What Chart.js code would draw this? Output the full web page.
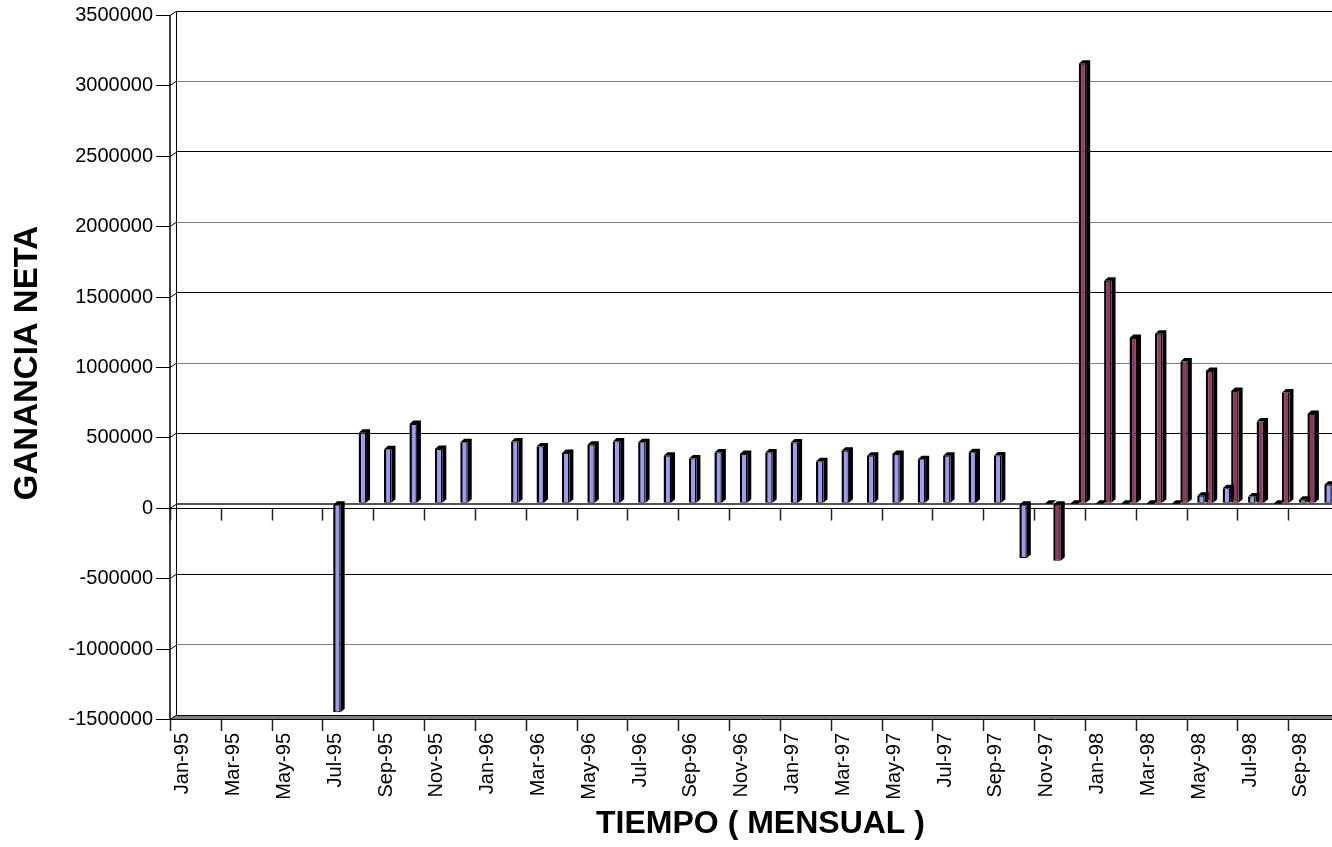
<!DOCTYPE html>
<html>
<head>
<meta charset="utf-8">
<script src="https://cdn.jsdelivr.net/npm/chart.js@4.4.1/dist/chart.umd.min.js"></script>
<style>
  html, body { margin: 0; padding: 0; background: #fff; overflow: hidden; }
  #wrap { width: 1350px; height: 847px; }
</style>
</head>
<body>
<div id="wrap"><canvas id="gananciaChart"></canvas></div>
<script>
const months = [
    'Jan-95', 'Feb-95', 'Mar-95', 'Apr-95', 'May-95', 'Jun-95', 'Jul-95', 'Aug-95', 'Sep-95', 'Oct-95', 'Nov-95', 'Dec-95',
    'Jan-96', 'Feb-96', 'Mar-96', 'Apr-96', 'May-96', 'Jun-96', 'Jul-96', 'Aug-96', 'Sep-96', 'Oct-96', 'Nov-96', 'Dec-96',
    'Jan-97', 'Feb-97', 'Mar-97', 'Apr-97', 'May-97', 'Jun-97', 'Jul-97', 'Aug-97', 'Sep-97', 'Oct-97', 'Nov-97', 'Dec-97',
    'Jan-98', 'Feb-98', 'Mar-98', 'Apr-98', 'May-98', 'Jun-98', 'Jul-98', 'Aug-98', 'Sep-98', 'Oct-98'
];

// blue series
const serie1 = [
    null, null, null, null, null, null, -1480000, 505000, 388000, 566000, 390000, 437000,
    null, 442000, 407000, 360000, 419000, 442000, 438000, 341000, 322000, 364000, 353000, 364000,
    435000, 303000, 376000, 341000, 353000, 317000, 341000, 366000, 343000, -385000, 0, 0,
    0, 0, 0, 0, 57000, 111000, 52000, 0, 28000, 135000
];

// maroon series
const serie2 = [
    null, null, null, null, null, null, null, null, null, null, null, null,
    null, null, null, null, null, null, null, null, null, null, null, null,
    null, null, null, null, null, null, null, null, null, null, -405000, 3125000,
    1584000, 1177000, 1207000, 1011000, 944000, 802000, 585000, 791000, 637000, null
];

const yTicks = { min: -1500000, max: 3500000, step: 500000 };

Chart.defaults.font.family = "'Liberation Sans', Arial, sans-serif";
Chart.defaults.color = '#000';

// walls, floor, zero plane and tick marks of the 3D look
const frame3d = {
    id: 'frame3d',
    beforeDatasetsDraw(chart) {
        const { ctx, chartArea: a, scales: { x, y } } = chart;
        const dx = 6, dy = 4;
        const fl = a.left - dx;
        const far = a.right + 40;
        const cat = x.getPixelForValue(1) - x.getPixelForValue(0);
        ctx.save();

        // floor at the bottom
        ctx.fillStyle = '#808080';
        ctx.beginPath();
        ctx.moveTo(a.left, a.bottom);
        ctx.lineTo(far, a.bottom);
        ctx.lineTo(far, a.bottom + dy);
        ctx.lineTo(fl, a.bottom + dy);
        ctx.closePath();
        ctx.fill();
        ctx.strokeStyle = '#000';
        ctx.lineWidth = 1;
        ctx.beginPath();
        ctx.moveTo(a.left, a.bottom + 0.5);
        ctx.lineTo(far, a.bottom + 0.5);
        ctx.moveTo(fl, a.bottom + dy + 0.5);
        ctx.lineTo(far, a.bottom + dy + 0.5);
        ctx.stroke();

        // front edge of the left wall
        ctx.strokeStyle = '#404040';
        ctx.lineWidth = 2;
        ctx.beginPath();
        ctx.moveTo(fl, a.top + dy);
        ctx.lineTo(fl, a.bottom + dy);
        ctx.stroke();

        // value tick marks and depth connectors
        ctx.strokeStyle = '#000';
        ctx.lineWidth = 1;
        ctx.beginPath();
        for (let v = yTicks.min; v <= yTicks.max; v += yTicks.step) {
            const yb = Math.round(y.getPixelForValue(v)) + 0.5;
            ctx.moveTo(fl - 14, yb + dy);
            ctx.lineTo(fl, yb + dy);
            ctx.lineTo(a.left, yb);
        }
        ctx.stroke();

        // front edge of the zero plane
        const y0 = Math.round(y.getPixelForValue(0)) + 0.5;
        ctx.beginPath();
        ctx.moveTo(fl - 14, y0 + dy);
        ctx.lineTo(far, y0 + dy);
        ctx.stroke();

        // category tick marks, every second month
        ctx.lineWidth = 1.5;
        ctx.strokeStyle = '#202020';
        ctx.beginPath();
        for (let i = 0; i < months.length; i += 2) {
            const xb = Math.round(x.getPixelForValue(i) - cat / 2 - dx) + 0.5;
            ctx.moveTo(xb, y0 + dy);
            ctx.lineTo(xb, y0 + dy + 12);
            ctx.moveTo(xb, a.bottom + dy);
            ctx.lineTo(xb, a.bottom + dy + 12);
        }
        ctx.stroke();
        ctx.restore();
    }
};

// dark top and side faces of every column
const bars3d = {
    id: 'bars3d',
    afterDatasetsDraw(chart) {
        const ctx = chart.ctx;
        const dx = 4, dy = 3.5;
        ctx.save();
        ctx.fillStyle = '#000';
        chart.data.datasets.forEach((ds, di) => {
            chart.getDatasetMeta(di).data.forEach((bar, i) => {
                if (ds.data[i] === null) return;
                const p = bar.getProps(['x', 'y', 'base', 'width']);
                const l = p.x - p.width / 2, r = p.x + p.width / 2;
                const top = Math.min(p.y, p.base), bot = Math.max(p.y, p.base);
                ctx.beginPath();
                ctx.moveTo(l, top);
                ctx.lineTo(l + dx, top - dy);
                ctx.lineTo(r + dx, top - dy);
                ctx.lineTo(r + dx, bot - dy);
                ctx.lineTo(r, bot);
                ctx.lineTo(r, top);
                ctx.closePath();
                ctx.fill();
            });
        });
        ctx.restore();
    }
};

new Chart('gananciaChart', {
    type: 'bar',
    data: {
        labels: months,
        datasets: [{
            label: 'Serie1',
            data: serie1,
            backgroundColor: '#9999FF',
            borderColor: '#000',
            borderWidth: { left: 2.5, right: 1.5, top: 1, bottom: 1 },
            borderSkipped: false
        }, {
            label: 'Serie2',
            data: serie2,
            backgroundColor: '#993366',
            borderColor: '#000',
            borderWidth: { left: 2.5, right: 1.5, top: 1, bottom: 1 },
            borderSkipped: false
        }]
    },
    options: {
        responsive: true,
        maintainAspectRatio: false,
        animation: false,
        categoryPercentage: 0.67,
        barPercentage: 0.88,
        layout: { padding: { top: 11, right: 5, left: 0, bottom: 0 } },
        plugins: {
            legend: { display: false },
            tooltip: { enabled: false }
        },
        scales: {
            x: {
                offset: true,
                grid: { color: 'rgba(0,0,0,0)', drawOnChartArea: false, tickLength: 15, offset: true },
                border: { display: false },
                ticks: {
                    autoSkip: false,
                    minRotation: 90,
                    maxRotation: 90,
                    padding: 3,
                    labelOffset: -6,
                    font: { size: 20 },
                    callback: (v, i) => (i % 2 === 0 ? months[i] : null)
                },
                title: {
                    display: true,
                    text: 'TIEMPO ( MENSUAL )',
                    font: { size: 32, weight: 'bold' },
                    padding: { top: 0, bottom: 4 }
                },
                afterFit: scale => { scale.height = 132; }
            },
            y: {
                min: yTicks.min,
                max: yTicks.max,
                border: { display: true, color: '#000', width: 1 },
                grid: {
                    color: c => (c.tick.value === 0 ? '#555' : (c.tick.value % 1000000 === 0 ? '#808080' : '#000')),
                    lineWidth: c => (c.tick.value === 0 ? 2 : 1),
                    tickColor: 'rgba(0,0,0,0)',
                    tickLength: 23
                },
                ticks: {
                    stepSize: yTicks.step,
                    padding: 0,
                    labelOffset: 4.5,
                    font: { size: 20, lineHeight: 1 },
                    callback: v => String(v)
                },
                title: {
                    display: true,
                    text: 'GANANCIA NETA',
                    font: { size: 33, weight: 'bold' },
                    padding: { top: 8.5, bottom: 0 }
                },
                afterFit: scale => { scale.width = 176; }
            }
        }
    },
    plugins: [frame3d, bars3d]
});
</script>
</body>
</html>
